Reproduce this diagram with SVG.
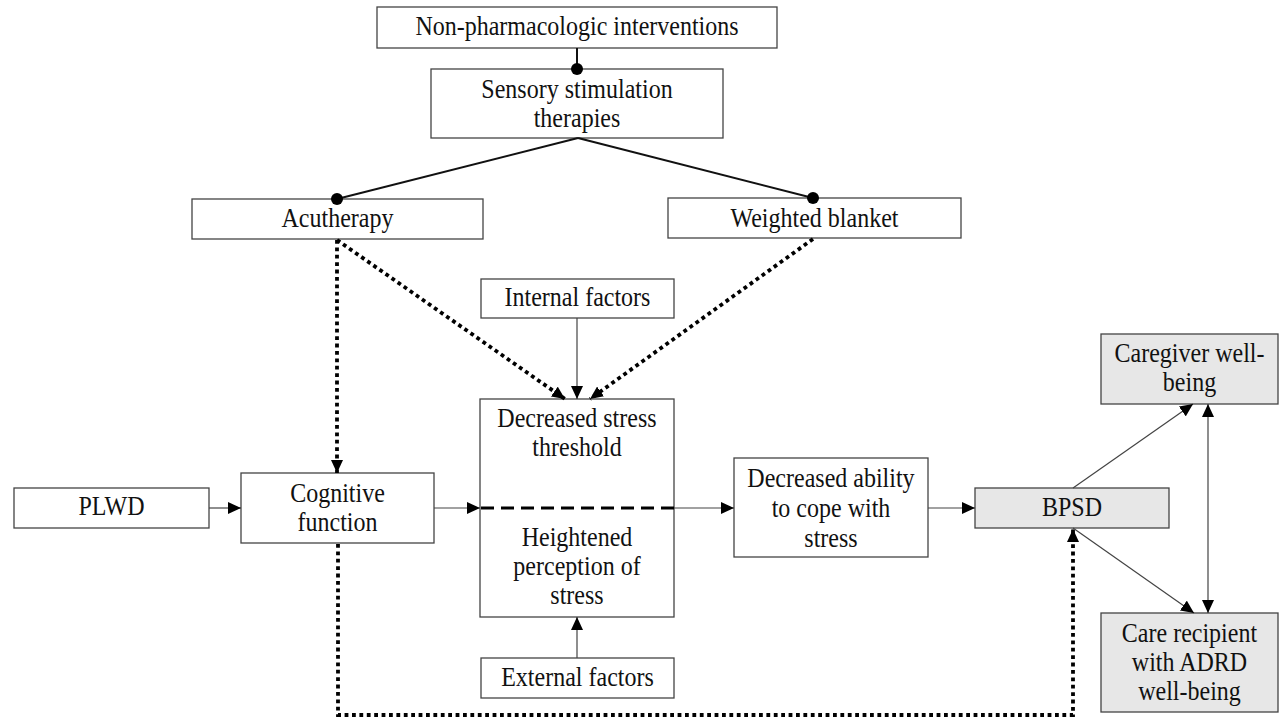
<svg xmlns="http://www.w3.org/2000/svg" width="1281" height="718" viewBox="0 0 1281 718">
<style>
  .box { fill: #ffffff; stroke: #444444; stroke-width: 1.3; }
  .gbox { fill: #e7e7e7; stroke: #444444; stroke-width: 1.3; }
  text { font-family: "Liberation Serif", "Times New Roman", serif; font-size: 24px; fill: #111111; text-anchor: middle; transform-box: fill-box; transform-origin: center; transform: scaleY(1.15); }
  .thin { fill: none; stroke: #444444; stroke-width: 1.2; }
  .tree { fill: none; stroke: #111111; stroke-width: 2; }
  .dot { fill: none; stroke: #000000; stroke-width: 3.8; stroke-dasharray: 3.8 3.6; }
  .dash { fill: none; stroke: #000000; stroke-width: 3; stroke-dasharray: 13 7; }
  .knob { fill: #000000; }
</style>
<defs>
  <marker id="arr" markerUnits="userSpaceOnUse" markerWidth="13" markerHeight="12" refX="13" refY="6" orient="auto-start-reverse" viewBox="0 0 13 12">
    <path d="M0,0 L13,6 L0,12 Z" fill="#000000"/>
  </marker>
</defs>

<g id="node-nonpharm">
  <rect class="box" x="377" y="7" width="400" height="41"/>
  <text x="577" y="34">Non-pharmacologic interventions</text>
</g>
<g id="node-sensory">
  <rect class="box" x="431" y="69" width="292" height="69"/>
  <text x="577" y="96.5">Sensory stimulation</text>
  <text x="577" y="126">therapies</text>
</g>
<g id="node-acutherapy">
  <rect class="box" x="192" y="199" width="291" height="40"/>
  <text x="337.5" y="226">Acutherapy</text>
</g>
<g id="node-weighted">
  <rect class="box" x="668" y="198" width="293" height="40"/>
  <text x="814.5" y="226">Weighted blanket</text>
</g>
<g id="node-internal">
  <rect class="box" x="481" y="279" width="193" height="39"/>
  <text x="577.5" y="305">Internal factors</text>
</g>
<g id="node-stress">
  <rect class="box" x="480" y="399" width="194" height="218"/>
  <text x="577" y="426">Decreased stress</text>
  <text x="577" y="455">threshold</text>
  <text x="577" y="545">Heightened</text>
  <text x="577" y="574">perception of</text>
  <text x="577" y="603">stress</text>
</g>
<g id="node-external">
  <rect class="box" x="481" y="658" width="193" height="40"/>
  <text x="577.5" y="685">External factors</text>
</g>
<g id="node-plwd">
  <rect class="box" x="14" y="488" width="195" height="40"/>
  <text x="111.5" y="514">PLWD</text>
</g>
<g id="node-cognitive">
  <rect class="box" x="241" y="473" width="193" height="70"/>
  <text x="337.5" y="501">Cognitive</text>
  <text x="337.5" y="530">function</text>
</g>
<g id="node-ability">
  <rect class="box" x="734" y="458" width="194" height="99"/>
  <text x="831" y="486">Decreased ability</text>
  <text x="831" y="516">to cope with</text>
  <text x="831" y="546">stress</text>
</g>
<g id="node-bpsd">
  <rect class="gbox" x="975" y="488" width="194" height="40"/>
  <text x="1072" y="515">BPSD</text>
</g>
<g id="node-caregiver">
  <rect class="gbox" x="1101" y="334" width="177" height="70"/>
  <text x="1189.5" y="361">Caregiver well-</text>
  <text x="1189.5" y="390">being</text>
</g>
<g id="node-recipient">
  <rect class="gbox" x="1101" y="613" width="177" height="99"/>
  <text x="1189.5" y="641">Care recipient</text>
  <text x="1189.5" y="670">with ADRD</text>
  <text x="1189.5" y="699">well-being</text>
</g>

<g id="connectors">
  <line class="tree" x1="577" y1="48" x2="577" y2="69"/>
  <line class="tree" x1="578" y1="138" x2="337" y2="199"/>
  <line class="tree" x1="578" y1="138" x2="813" y2="198"/>
  <circle class="knob" cx="577" cy="69" r="6"/>
  <circle class="knob" cx="337" cy="199" r="6"/>
  <circle class="knob" cx="813" cy="198" r="6"/>

  <path class="dot" d="M337,240 L337,473" marker-end="url(#arr)"/>
  <path class="dot" d="M337,240 L565,399" marker-end="url(#arr)"/>
  <path class="dot" d="M813,239 L590,399" marker-end="url(#arr)"/>
  <path class="dot" d="M338,544 L338,715 L1073,715 L1073,529" marker-end="url(#arr)"/>

  <line class="dash" x1="481" y1="508" x2="674" y2="508"/>

  <line class="thin" x1="209" y1="508" x2="241" y2="508" marker-end="url(#arr)"/>
  <line class="thin" x1="434" y1="508" x2="480" y2="508" marker-end="url(#arr)"/>
  <line class="thin" x1="674" y1="508" x2="734" y2="508" marker-end="url(#arr)"/>
  <line class="thin" x1="928" y1="508" x2="975" y2="508" marker-end="url(#arr)"/>
  <line class="thin" x1="577" y1="318" x2="577" y2="399" marker-end="url(#arr)"/>
  <line class="thin" x1="577" y1="658" x2="577" y2="617" marker-end="url(#arr)"/>
  <line class="thin" x1="1073" y1="488" x2="1193" y2="404" marker-end="url(#arr)"/>
  <line class="thin" x1="1073" y1="528" x2="1194" y2="613" marker-end="url(#arr)"/>
  <line class="thin" x1="1208" y1="404" x2="1208" y2="613" marker-start="url(#arr)" marker-end="url(#arr)"/>
</g>
</svg>
